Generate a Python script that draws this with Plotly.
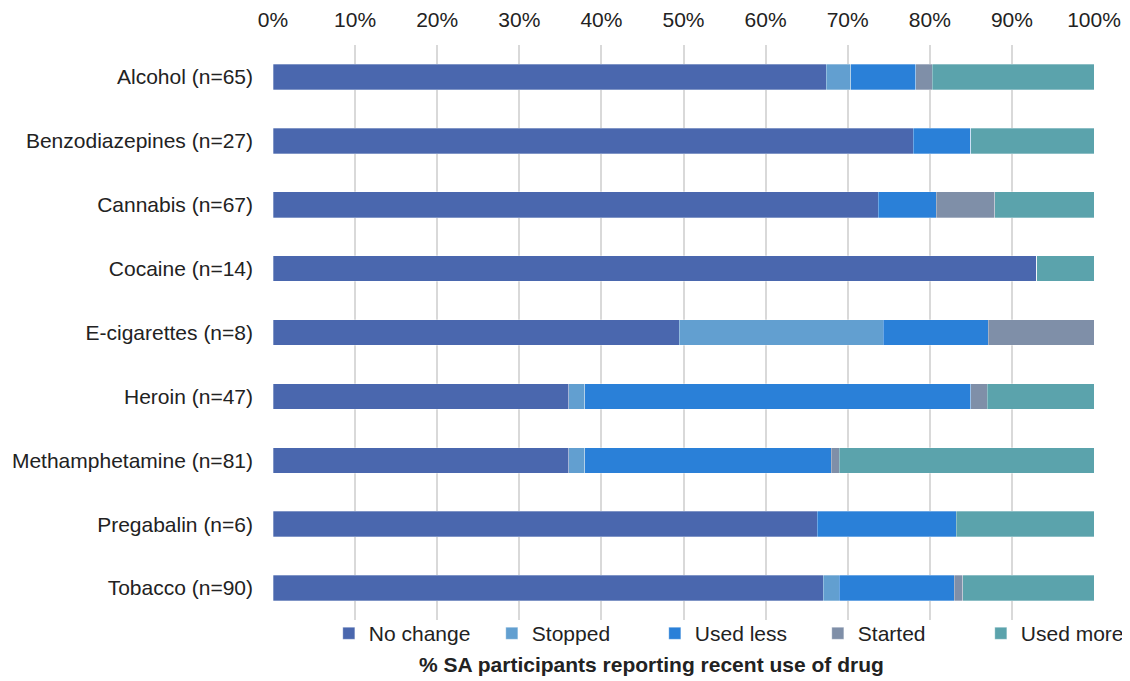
import plotly.graph_objects as go

categories = ["Alcohol (n=65)", "Benzodiazepines (n=27)", "Cannabis (n=67)", "Cocaine (n=14)",
              "E-cigarettes (n=8)", "Heroin (n=47)", "Methamphetamine (n=81)", "Pregabalin (n=6)",
              "Tobacco (n=90)"]
no_change = [67.4, 78.0, 73.7, 93.0, 49.5, 36.0, 36.0, 66.3, 67.0]
stopped   = [3.0, 0.0, 0.0, 0.0, 24.8, 2.0, 2.0, 0.0, 2.0]
used_less = [7.9, 7.0, 7.1, 0.0, 12.8, 47.0, 30.0, 16.9, 14.0]
started   = [2.0, 0.0, 7.1, 0.0, 12.9, 2.0, 1.0, 0.0, 1.0]
used_more = [19.7, 15.0, 12.1, 7.0, 0.0, 13.0, 31.0, 16.8, 16.0]

series_names = ["No change", "Stopped", "Used less", "Started", "Used more"]
series_vals = [no_change, stopped, used_less, started, used_more]
colors = ["#4A67AE", "#629FD0", "#2A80D8", "#7F8FA8", "#5BA3AC"]

fig = go.Figure()
for name, vals, col in zip(series_names, series_vals, colors):
    fig.add_trace(go.Bar(
        y=categories, x=vals, name=name, orientation="h",
        marker=dict(color=col, line=dict(color="rgba(255,255,255,0.5)", width=0.6)),
        width=0.4,
    ))

font_family = "Liberation Sans, Arial, sans-serif"
fig.update_layout(
    barmode="stack",
    width=1130, height=681,
    margin=dict(l=265, r=44, t=37, b=69, autoexpand=False),
    paper_bgcolor="white", plot_bgcolor="white",
    font=dict(family=font_family, size=21, color="#222222"),
    xaxis=dict(side="top", range=[0, 100], dtick=10, ticksuffix="%",
               showgrid=True, gridcolor="#d9d9d9", gridwidth=1.5, automargin=False,
               zeroline=False, showline=False, ticks="", ticklabelstandoff=13,
               tickfont=dict(size=21)),
    yaxis=dict(autorange="reversed", showgrid=False, zeroline=False, showline=False,
               automargin=False,
               ticks="", ticklabelstandoff=19, tickfont=dict(size=21)),
    legend=dict(orientation="h", x=0.068, xanchor="left", y=0.012, yanchor="top",
                font=dict(size=21), traceorder="normal", bgcolor="rgba(0,0,0,0)",
                entrywidth=118, entrywidthmode="pixels"),
    showlegend=True,
    annotations=[dict(text="<b>% SA participants reporting recent use of drug</b>",
                      x=0.4616, y=-0.078, xref="paper", yref="paper",
                      xanchor="center", yanchor="middle", showarrow=False,
                      font=dict(size=21, color="#222222"))],
)

fig.write_html("out.html")
